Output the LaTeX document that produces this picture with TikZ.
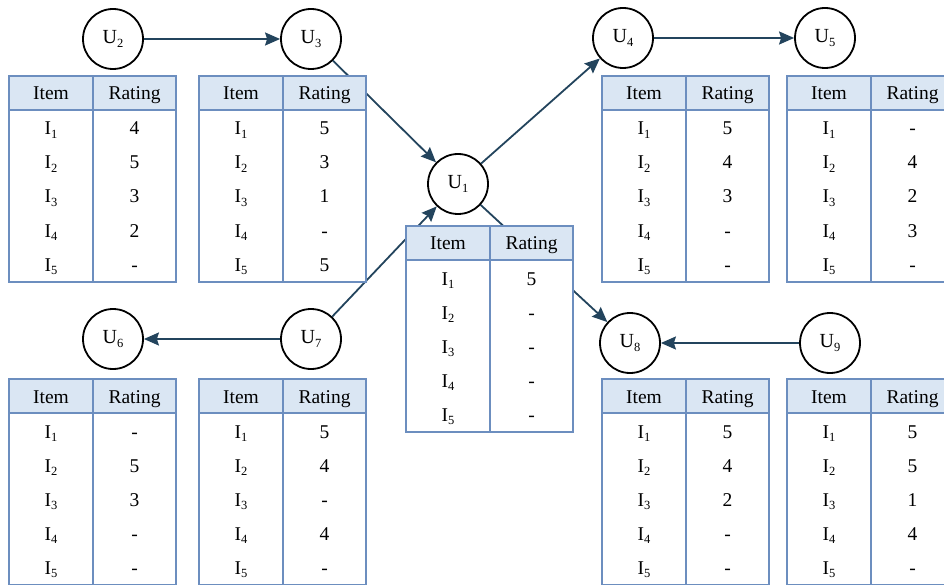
\documentclass[tikz,border=0pt]{standalone}
\usepackage{fontspec}
\setmainfont{Liberation Serif}
\usetikzlibrary{arrows.meta}

\definecolor{tblblue}{HTML}{6C8EBF}
\definecolor{hdrblue}{HTML}{DAE6F3}
\definecolor{linkblue}{HTML}{23445D}

\newcommand\tablefont{\fontsize{19.5}{22}\selectfont}
\newcommand\userfont{\fontsize{20}{22}\selectfont}
\newcommand\isub[1]{\raisebox{-3.5pt}{\fontsize{12.5}{12.5}\selectfont #1}}
\newcommand\usub[1]{\raisebox{-3.5pt}{\fontsize{12.5}{12.5}\selectfont #1}}

\tikzset{
  tblline/.style={draw=tblblue, line width=1.8pt},
  cell/.style={anchor=base, inner sep=0pt, font=\tablefont},
  user/.style={circle, draw=black, line width=1.8pt, minimum size=60pt,
               inner sep=0pt, fill=white, font=\userfont},
  link/.style={draw=linkblue, line width=1.8pt,
               -{Stealth[length=15pt,width=13pt,inset=2pt]}},
}

% rating table: name, left x, top y, five ratings
\newcommand\ratingtable[8]{%
  \begin{scope}[shift={(#2,#3)}]
    \fill[white] (0,0) rectangle (167,206);
    \fill[hdrblue] (0,0) rectangle (167,34);
    \draw[tblline] (0,34) -- (167,34) (84,0) -- (84,206);
    \draw[tblline] (0,0) rectangle (167,206);
    \node[cell] (#1-item) at (42,24) {Item};
    \node[cell] (#1-rating) at (125.5,24) {Rating};
    \foreach \v [count=\k] in {#4,#5,#6,#7,#8} {
      \node[cell] (#1-i\k) at (42,{59+34*(\k-1)}) {I\isub{\k}};
      \node[cell] (#1-r\k) at (125.5,{59+34*(\k-1)}) {\v};
    }
  \end{scope}}

\begin{document}
\begin{tikzpicture}[x=1pt,y=-1pt]
  \useasboundingbox (0,0) rectangle (944,585);

  % users
  \node[user] (u1) at (458,184) {U\usub{1}};
  \node[user] (u2) at (113,39)  {U\usub{2}};
  \node[user] (u3) at (311,39)  {U\usub{3}};
  \node[user] (u4) at (623,38)  {U\usub{4}};
  \node[user] (u5) at (825,38)  {U\usub{5}};
  \node[user] (u6) at (113,339) {U\usub{6}};
  \node[user] (u7) at (311,339) {U\usub{7}};
  \node[user] (u8) at (630,343) {U\usub{8}};
  \node[user] (u9) at (830,343) {U\usub{9}};

  % trust links
  \draw[link] (u2) -- (u3);
  \draw[link] (u3) -- (u1);
  \draw[link] (u1) -- (u4);
  \draw[link] (u4) -- (u5);
  \draw[link] (u7) -- (u1);
  \draw[link] (u7) -- (u6);
  \draw[link] (u1) -- (u8);
  \draw[link] (u9) -- (u8);

  % rating tables (drawn over the links)
  \ratingtable{t2}{9}{76}{4}{5}{3}{2}{-}
  \ratingtable{t3}{199}{76}{5}{3}{1}{-}{5}
  \ratingtable{t4}{602}{76}{5}{4}{3}{-}{-}
  \ratingtable{t5}{787}{76}{-}{4}{2}{3}{-}
  \ratingtable{t1}{406}{226}{5}{-}{-}{-}{-}
  \ratingtable{t6}{9}{379}{-}{5}{3}{-}{-}
  \ratingtable{t7}{199}{379}{5}{4}{-}{4}{-}
  \ratingtable{t8}{602}{379}{5}{4}{2}{-}{-}
  \ratingtable{t9}{787}{379}{5}{5}{1}{4}{-}
\end{tikzpicture}
\end{document}
